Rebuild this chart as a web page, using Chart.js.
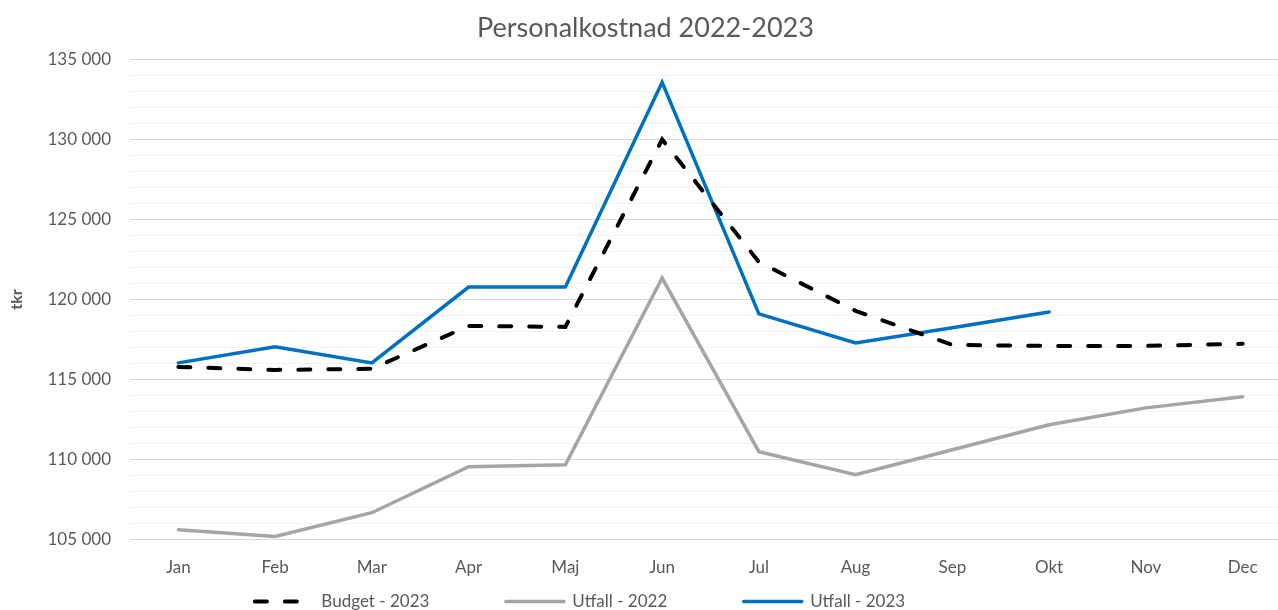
<!DOCTYPE html>
<html>
<head>
<meta charset="utf-8">
<script src="https://cdn.jsdelivr.net/npm/chart.js@4.4.0/dist/chart.umd.min.js"></script>
<style>
  html, body { margin: 0; padding: 0; background: #fff; overflow: hidden; }
  #wrap { width: 1291px; height: 610px; }
</style>
</head>
<body>
<div id="wrap"><canvas id="costChart"></canvas></div>
<script>
// months on the x axis
const months = ['Jan', 'Feb', 'Mar', 'Apr', 'Maj', 'Jun', 'Jul', 'Aug', 'Sep', 'Okt', 'Nov', 'Dec'];

// values in tkr
const budget2023 = [115790, 115600, 115670, 118350, 118290, 130000, 122340, 119290, 117160, 117100, 117100, 117230];
const utfall2022 = [105620, 105190, 106680, 109550, 109680, 121340, 110490, 109050, 110610, 112170, 113230, 113920];
const utfall2023 = [116040, 117040, 116040, 120780, 120780, 133570, 119100, 117290, 118230, 119220, null, null];

const yMin = 105000;
const yMax = 135000;

const FONT = 'Lato, "Open Sans", sans-serif';
const GREY_TEXT = '#595959';

function fmt(v) {
  return String(v).replace(/\B(?=(\d{3})+(?!\d))/g, ' ');
}

// nudge the legend so it sits where Excel put it
const legendShift = {
  id: 'legendShift',
  afterLayout(chart) {
    const lg = chart.legend;
    if (!lg) return;
    lg.left = 0;
    lg.right = 1160;
  }
};

// legend entries with empty spacers between them (Excel leaves wide gaps)
function legendItems(chart) {
  const base = Chart.defaults.plugins.legend.labels.generateLabels(chart);
  const out = [];
  base.forEach((item, i) => {
    if (i > 0) {
      out.push({ text: '', fillStyle: 'rgba(0,0,0,0)', strokeStyle: 'rgba(0,0,0,0)', lineWidth: 0, pointStyle: 'line', hidden: false, datasetIndex: -1 });
    }
    const ds = chart.data.datasets[item.datasetIndex];
    item.pointStyle = 'line';
    item.strokeStyle = ds.borderColor;
    item.lineWidth = ds.borderWidth;
    item.lineDash = ds.borderDash || [];
    item.lineCap = 'round';
    out.push(item);
  });
  return out;
}

const ctx = document.getElementById('costChart').getContext('2d');
const costChart = new Chart(ctx, {
  type: 'line',
  data: {
    labels: months,
    datasets: [
      {
        label: 'Budget - 2023',
        data: budget2023,
        borderColor: '#000000',
        backgroundColor: '#000000',
        borderWidth: 4,
        borderDash: [12, 18],
        borderCapStyle: 'round',
        pointRadius: 0,
        tension: 0
      },
      {
        label: 'Utfall - 2022',
        data: utfall2022,
        borderColor: '#a5a5a5',
        backgroundColor: '#a5a5a5',
        borderWidth: 3.5,
        borderCapStyle: 'round',
        pointRadius: 0,
        tension: 0
      },
      {
        label: 'Utfall - 2023',
        data: utfall2023,
        borderColor: '#0070c0',
        backgroundColor: '#0070c0',
        borderWidth: 3.5,
        borderCapStyle: 'round',
        pointRadius: 0,
        tension: 0,
        spanGaps: false
      }
    ]
  },
  options: {
    responsive: true,
    maintainAspectRatio: false,
    animation: false,
    events: [],
    layout: { padding: { top: 12, right: 0, bottom: -10, left: 0 } },
    plugins: {
      title: {
        display: true,
        text: 'Personalkostnad 2022-2023',
        color: GREY_TEXT,
        font: { family: FONT, size: 27, weight: 'normal' },
        padding: { top: 0, bottom: 15 }
      },
      legend: {
        position: 'bottom',
        labels: {
          color: GREY_TEXT,
          font: { family: FONT, size: 17 },
          usePointStyle: true,
          pointStyle: 'line',
          pointStyleWidth: 58,
          boxHeight: 10,
          padding: 5,
          generateLabels: legendItems
        }
      },
      tooltip: { enabled: false }
    },
    scales: {
      x: {
        offset: true,
        grid: { display: false },
        border: { display: false },
        ticks: {
          color: GREY_TEXT,
          font: { family: FONT, size: 17 },
          padding: 10,
          maxRotation: 0
        }
      },
      y: {
        min: yMin,
        max: yMax,
        afterFit(axis) { axis.width = 130; },
        title: {
          display: true,
          text: 'tkr',
          color: GREY_TEXT,
          font: { family: FONT, size: 16, weight: 'bold' },
          padding: { top: 7, bottom: 0 }
        },
        grid: {
          drawTicks: false,
          lineWidth: 1,
          color: (c) => (c.tick && c.tick.value % 5000 === 0 ? '#d9d9d9' : '#f2f2f2')
        },
        border: { display: false },
        ticks: {
          stepSize: 1000,
          autoSkip: false,
          color: GREY_TEXT,
          font: { family: FONT, size: 17 },
          padding: 19,
          callback: (v) => (v % 5000 === 0 ? fmt(v) : '')
        }
      }
    }
  },
  plugins: [legendShift]
});
</script>
</body>
</html>
